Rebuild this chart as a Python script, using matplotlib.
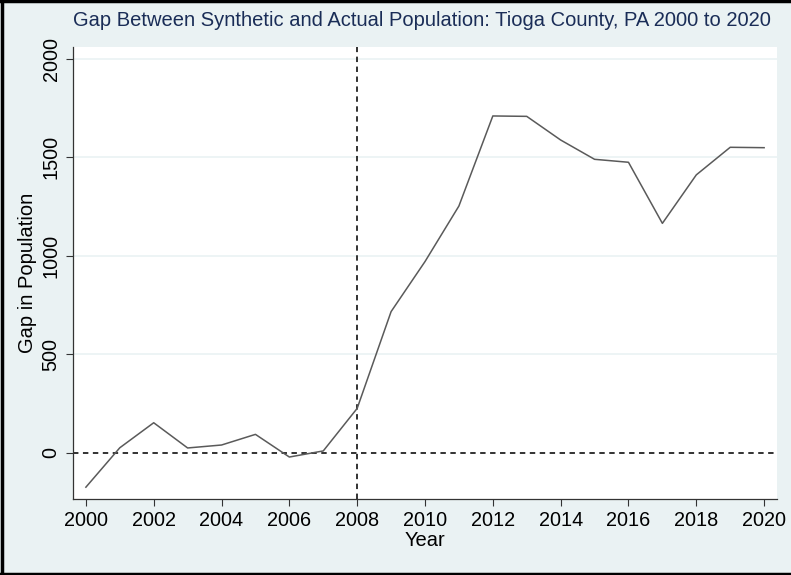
import matplotlib.pyplot as plt
from matplotlib.lines import Line2D

plt.rcParams['font.family'] = ['Liberation Sans', 'DejaVu Sans']

# Gap between synthetic control and actual population, Tioga County PA
years = list(range(2000, 2021))
gap = [-175, 25, 152, 24, 39, 93, -22, 9, 225, 716, 970, 1252,
       1709, 1707, 1587, 1489, 1474, 1164, 1410, 1550, 1548]

yticks = [0, 500, 1000, 1500, 2000]
xticks = list(range(2000, 2021, 2))
treat_year = 2008

bg = '#eaf2f3'
fig = plt.figure(figsize=(7.91, 5.75), dpi=100, facecolor=bg)
ax = fig.add_axes([73 / 791, 1 - 499 / 575, 704 / 791, 452 / 575])
ax.set_facecolor('white')

for t in yticks[1:]:
    ax.axhline(t, color=bg, lw=1.2, zorder=0)

ax.plot(years, gap, color='#5a5a5a', lw=1.1, zorder=3)
ax.axhline(0, color='#222222', lw=1.3, ls=(0, (3, 2.5)), zorder=2)
ax.axvline(treat_year, color='#222222', lw=1.3, ls=(0, (3, 2.5)), zorder=2)

ax.set_xlim(1999.62, 2020.38)
ax.set_ylim(-235, 2059)
ax.set_xticks(xticks)
ax.set_yticks(yticks)
ax.set_yticklabels([str(t) for t in yticks], rotation=90, va='center')
ax.tick_params(labelsize=14.3, length=5, width=0.8, color='#333333', pad=4)

for s in ['top', 'right']:
    ax.spines[s].set_visible(False)
for s in ['left', 'bottom']:
    ax.spines[s].set_color('#333333')
    ax.spines[s].set_linewidth(0.9)

ax.set_xlabel('Year', fontsize=14.5, labelpad=0)
ax.set_ylabel('Gap in Population', fontsize=14.5, labelpad=3)
fig.text(422 / 791, 1 - 20 / 575,
         'Gap Between Synthetic and Actual Population: Tioga County, PA 2000 to 2020',
         ha='center', va='center', fontsize=14.5, color='#1a2d57')

# thin frame around the graph region
for xs, ys in [([0, 1], [0.002, 0.002]), ([0, 1], [0.998, 0.998]), ([0.002, 0.002], [0, 1])]:
    fig.add_artist(Line2D(xs, ys, color='black', lw=2.5, transform=fig.transFigure))

fig.savefig('out.png', dpi=100, facecolor=bg)
